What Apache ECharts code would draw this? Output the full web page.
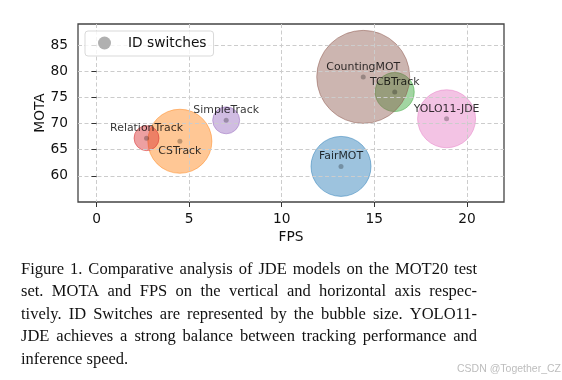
<!DOCTYPE html>
<html><head><meta charset="utf-8">
<script src="https://cdn.jsdelivr.net/npm/echarts@6/dist/echarts.min.js"></script>
<style>html,body{margin:0;padding:0;background:#fff}#c{width:562px;height:380px}</style>
</head><body><div id="c"></div>
<script>
// ---- data ----
const names = ['FairMOT', 'CSTrack', 'TCBTrack', 'RelationTrack', 'SimpleTrack', 'CountingMOT', 'YOLO11-JDE'];
const fps = [13.2, 4.5, 16.1, 2.7, 7.0, 14.4, 18.9];
const mota = [61.8, 66.6, 76.0, 67.2, 70.6, 78.9, 70.9];
const idSwitches = [5243, 5970, 2220, 910, 1060, 12600, 4900];
const colors = ['#1f77b4', '#ff7f0e', '#2ca02c', '#d62728', '#9467bd', '#8c564b', '#e377c2'];
const labelBelow = ['CSTrack'];
const xTicks = [0, 5, 10, 15, 20];
const yTicks = [60, 65, 70, 75, 80, 85];
const legendName = 'ID switches';
const captionLines = [
  'Figure 1. Comparative analysis of JDE models on the MOT20 test',
  'set. MOTA and FPS on the vertical and horizontal axis respec-',
  'tively. ID Switches are represented by the bubble size. YOLO11-',
  'JDE achieves a strong balance between tracking performance and',
  'inference speed.'
];
const watermark = 'CSDN @Together_CZ';

// ---- helpers ----
function rgba(hex, a) {
  const n = parseInt(hex.slice(1), 16);
  return 'rgba(' + (n >> 16) + ',' + ((n >> 8) & 255) + ',' + (n & 255) + ',' + a + ')';
}
const sans = '"DejaVu Sans", sans-serif';
const fs = 13.75;
const txt = '#111';

const bubbles = names.map((n, i) => ({
  name: n,
  value: [fps[i], mota[i], idSwitches[i]],
  itemStyle: { color: rgba(colors[i], 0.55), borderColor: rgba(colors[i], 0.6), borderWidth: 1 }
}));
const centers = names.map((n, i) => ({
  name: n,
  value: [fps[i], mota[i]],
  label: { offset: [0, labelBelow.indexOf(n) >= 0 ? 10 : -10] }
}));

// ---- caption (justified) ----
const capSize = 16.5;
const capFamily = '"Liberation Serif", "Times New Roman", serif';
const capLeft = 21, capWidth = 456, capBase0 = 274.5, capLead = 22.5;
const mctx = document.createElement('canvas').getContext('2d');
mctx.font = capSize + 'px ' + capFamily;
const graphics = [];
captionLines.forEach((line, li) => {
  const words = line.split(' ');
  const widths = words.map(w => mctx.measureText(w).width);
  const total = widths.reduce((a, b) => a + b, 0);
  const last = li === captionLines.length - 1;
  const gap = last ? mctx.measureText(' ').width : (capWidth - total) / (words.length - 1);
  let x = capLeft;
  const y = capBase0 + li * capLead - 0.3 * capSize;
  words.forEach((w, wi) => {
    graphics.push({
      type: 'text', x: x, y: y, silent: true,
      style: { text: w, fontSize: capSize, fontFamily: capFamily, fill: '#111', align: 'left', verticalAlign: 'middle' }
    });
    x += widths[wi] + gap;
  });
});
graphics.push({
  type: 'text', right: 1, top: 364, silent: true,
  style: { text: watermark, fontSize: 10.5, fontFamily: '"Liberation Sans", Arial, sans-serif', fill: '#bdbdbd' }
});

const chart = echarts.init(document.getElementById('c'), null, { renderer: 'canvas' });
chart.setOption({
  backgroundColor: '#fff',
  animation: false,
  grid: { left: 78, top: 24, width: 426, height: 178, show: true, borderColor: '#444', borderWidth: 1.3, backgroundColor: 'transparent' },
  legend: {
    data: [legendName], left: 85, top: 31, icon: 'circle', itemWidth: 37, itemHeight: 13,
    padding: [5, 7, 6, 13], borderColor: '#d9d9d9', borderWidth: 1, borderRadius: 3,
    backgroundColor: 'rgba(255,255,255,0.8)', selectedMode: false, z: 10,
    itemStyle: { color: '#b0b0b0', borderWidth: 0, opacity: 1 },
    textStyle: { fontSize: fs, fontFamily: sans, color: txt }
  },
  xAxis: {
    type: 'value', min: -1, max: 22, z: 3,
    name: 'FPS', nameLocation: 'middle', nameGap: 28, nameMoveOverlap: false,
    nameTextStyle: { fontSize: fs, fontFamily: sans, color: txt },
    axisLine: { show: false },
    axisTick: { show: true, length: 5, lineStyle: { color: '#333' }, customValues: xTicks },
    axisLabel: { customValues: xTicks, margin: 10, fontSize: fs, fontFamily: sans, color: txt },
    splitLine: { show: true, lineStyle: { type: [4, 2.5], color: '#cccccc', width: 1 } }
  },
  yAxis: {
    type: 'value', min: 55, max: 89, z: 3,
    name: 'MOTA', nameLocation: 'middle', nameGap: 31, nameMoveOverlap: false,
    nameTextStyle: { fontSize: fs, fontFamily: sans, color: txt },
    axisLine: { show: false },
    axisTick: { show: true, length: 5, lineStyle: { color: '#333' }, customValues: yTicks },
    axisLabel: { customValues: yTicks, margin: 10, fontSize: fs, fontFamily: sans, color: txt },
    splitLine: { show: true, lineStyle: { type: [4, 2.5], color: '#cccccc', width: 1 } }
  },
  series: [
    {
      name: legendName, type: 'scatter', z: 2,
      itemStyle: { color: '#b0b0b0' },
      symbolSize: v => Math.sqrt(v[2]) * 0.8286,
      data: bubbles,
      emphasis: { disabled: true }
    },
    {
      name: 'centers', type: 'scatter', z: 6, symbolSize: 5,
      itemStyle: { color: 'rgba(0,0,0,0.32)' },
      label: { show: true, position: 'inside', formatter: p => p.name, fontSize: 10.9, fontFamily: sans, color: '#000' },
      data: centers,
      emphasis: { disabled: true }
    }
  ],
  graphic: graphics
});
</script></body></html>
